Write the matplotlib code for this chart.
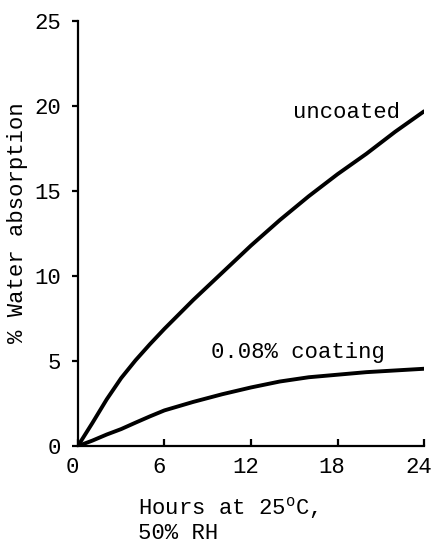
import numpy as np
import matplotlib.pyplot as plt
import matplotlib.transforms as mtransforms

plt.rcParams['font.family'] = ['Liberation Mono', 'DejaVu Sans']
plt.rcParams['mathtext.fontset'] = 'custom'
plt.rcParams['mathtext.rm'] = 'Liberation Mono'

hours = [0, 1, 2, 3, 4, 5, 6, 8, 10, 12, 14, 16, 18, 20, 22, 24]
uncoated = [0, 1.35, 2.75, 4.0, 5.05, 6.0, 6.9, 8.6, 10.2, 11.8, 13.3, 14.7, 16.0, 17.2, 18.5, 19.7]
coated = [0, 0.32, 0.68, 1.0, 1.38, 1.75, 2.1, 2.6, 3.05, 3.45, 3.8, 4.05, 4.2, 4.35, 4.45, 4.55]
xticks = [0, 6, 12, 18, 24]
yticks = [0, 5, 10, 15, 20, 25]

fig = plt.figure(figsize=(4.35, 5.44), dpi=100)
ax = fig.add_axes([0.179, 0.18, 0.796, 0.781])

ax.plot(hours, uncoated, color='black', lw=2.8, solid_capstyle='round', solid_joinstyle='round')
ax.plot(hours, coated, color='black', lw=2.8, solid_capstyle='round', solid_joinstyle='round')

ax.text(22.3, 19.6, 'uncoated', ha='right', va='center', fontsize=16)
ax.text(9.2, 5.5, '0.08% coating', ha='left', va='center', fontsize=16)

ax.set_xlim(0, 24)
ax.set_ylim(0, 25)
ax.set_xticks(xticks)
ax.set_yticks(yticks)
for s in ['top', 'right']:
    ax.spines[s].set_visible(False)
for s in ['left', 'bottom']:
    ax.spines[s].set_linewidth(1.6)
ax.tick_params(axis='x', direction='in', length=5, width=1.6, pad=8, labelsize=16)
ax.tick_params(axis='y', direction='out', length=4, width=1.6, pad=8, labelsize=16)

# typed labels sit a little left of the ticks
shift = mtransforms.ScaledTranslation(-4 / 72, 0, fig.dpi_scale_trans)
for lab in ax.get_xticklabels():
    lab.set_transform(lab.get_transform() + shift)

fig.text(0.041, 0.59, '% Water absorption', rotation=90, ha='center', va='center', fontsize=16)
fig.text(0.318, 0.045, 'Hours at 25$^{\\mathrm{o}}$C,\n50% RH', ha='left', va='center',
         fontsize=16, linespacing=1.12)

plt.savefig('out.png', dpi=100)
